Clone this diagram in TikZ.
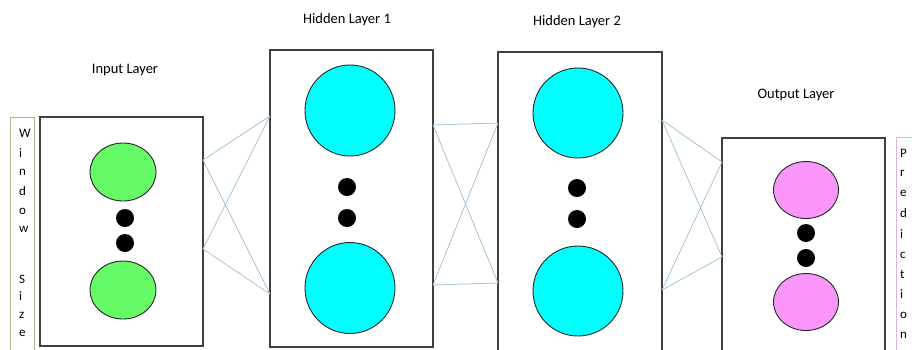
\documentclass[tikz,border=0pt]{standalone}
\usepackage{fontspec}
\setmainfont{Carlito}
\usetikzlibrary{shapes.geometric}
\definecolor{linkblue}{RGB}{160,192,214}
\definecolor{ingreen}{RGB}{102,250,102}
\definecolor{hidcyan}{RGB}{0,255,255}
\definecolor{outpink}{RGB}{250,150,250}
\definecolor{winframe}{RGB}{165,190,135}
\definecolor{predframe}{RGB}{225,175,225}

\begin{document}
\begin{tikzpicture}[x=1pt,y=-1pt,
    layer/.style={draw=black!75,line width=1.3pt,inner sep=0pt},
    unit/.style={ellipse,draw=black!85,line width=.9pt,inner sep=0pt},
    dotnode/.style={circle,fill=black,inner sep=0pt,minimum size=18pt},
    link/.style={draw=linkblue,line width=.75pt},
    head/.style={font=\fontsize{14.5}{16}\selectfont},
    letter/.style={anchor=west,inner sep=0pt,font=\fontsize{13}{15}\selectfont}]
    \useasboundingbox(0,0)rectangle(912,349);
    \clip(0,0)rectangle(912,349);
    % frames
    \node[layer,minimum width=163pt,minimum height=229pt](inbox)at(121.5,231.5){};
    \node[layer,minimum width=163pt,minimum height=297pt](hidA)at(351.5,198.5){};
    \node[layer,minimum width=164pt,minimum height=318pt](hidB)at(580,211){};
    \node[layer,minimum width=163pt,minimum height=232pt](outbox)at(803.5,254){};
    \node[draw=winframe,line width=1pt,minimum width=24pt,minimum height=240pt](winbox)at(22,237){};
    \node[draw=predframe,line width=1pt,minimum width=40pt,minimum height=230pt](predbox)at(916,252){};
    % headings
    \node[head](inlbl)at(125,70){Input Layer};
    \node[head](hidAlbl)at(347,20){Hidden Layer 1};
    \node[head](hidBlbl)at(577,22){Hidden Layer 2};
    \node[head](outlbl)at(796,95){Output Layer};
    % units
    \node[unit,fill=ingreen,minimum width=66pt,minimum height=58pt](inA)at(123,172){};
    \node[unit,fill=ingreen,minimum width=66pt,minimum height=58pt](inB)at(123,290){};
    \node[unit,fill=hidcyan,minimum width=90pt,minimum height=91pt](hAa)at(350,110.5){};
    \node[unit,fill=hidcyan,minimum width=90pt,minimum height=91pt](hAb)at(350,288){};
    \node[unit,fill=hidcyan,minimum width=90pt,minimum height=90pt](hBa)at(578,113){};
    \node[unit,fill=hidcyan,minimum width=90pt,minimum height=90pt](hBb)at(578,291){};
    \node[unit,fill=outpink,minimum width=65pt,minimum height=57pt](oA)at(806,190){};
    \node[unit,fill=outpink,minimum width=65pt,minimum height=57pt](oB)at(806,302){};
    \foreach\x/\ya/\yb in{125/218/243,347/187/218,577/188/219,806/233/258}{
      \node[dotnode]at(\x,\ya){};
      \node[dotnode]at(\x,\yb){};}
    % connectors
    \coordinate(pA1)at(203,160);\coordinate(pA2)at(203,249);
    \coordinate(pB1)at(270,116);\coordinate(pB2)at(270,294);
    \coordinate(pC1)at(433,125);\coordinate(pC2)at(433,285);
    \coordinate(pD1)at(498,123);\coordinate(pD2)at(498,283);
    \coordinate(pE1)at(662,120);\coordinate(pE2)at(662,290);
    \coordinate(pF1)at(722,162);\coordinate(pF2)at(722,257);
    \foreach\a/\b in{A/B,C/D,E/F}
    \foreach\i in{1,2}
    \foreach\j in{1,2}
    \draw[link](p\a\i)--(p\b\j);
    % vertical captions
    \foreach\c/\y in{W/133,i/153,n/172,d/191,o/211,w/229,S/279,i/296,z/315,e/333}
    \node[letter]at(19,\y){\c};
    \foreach\c/\y in{P/153,r/173,e/193,d/213,i/234,c/255,t/274,i/294,o/315,n/335}
    \node[letter]at(900,\y){\c};
  \end{tikzpicture}
\end{document}
